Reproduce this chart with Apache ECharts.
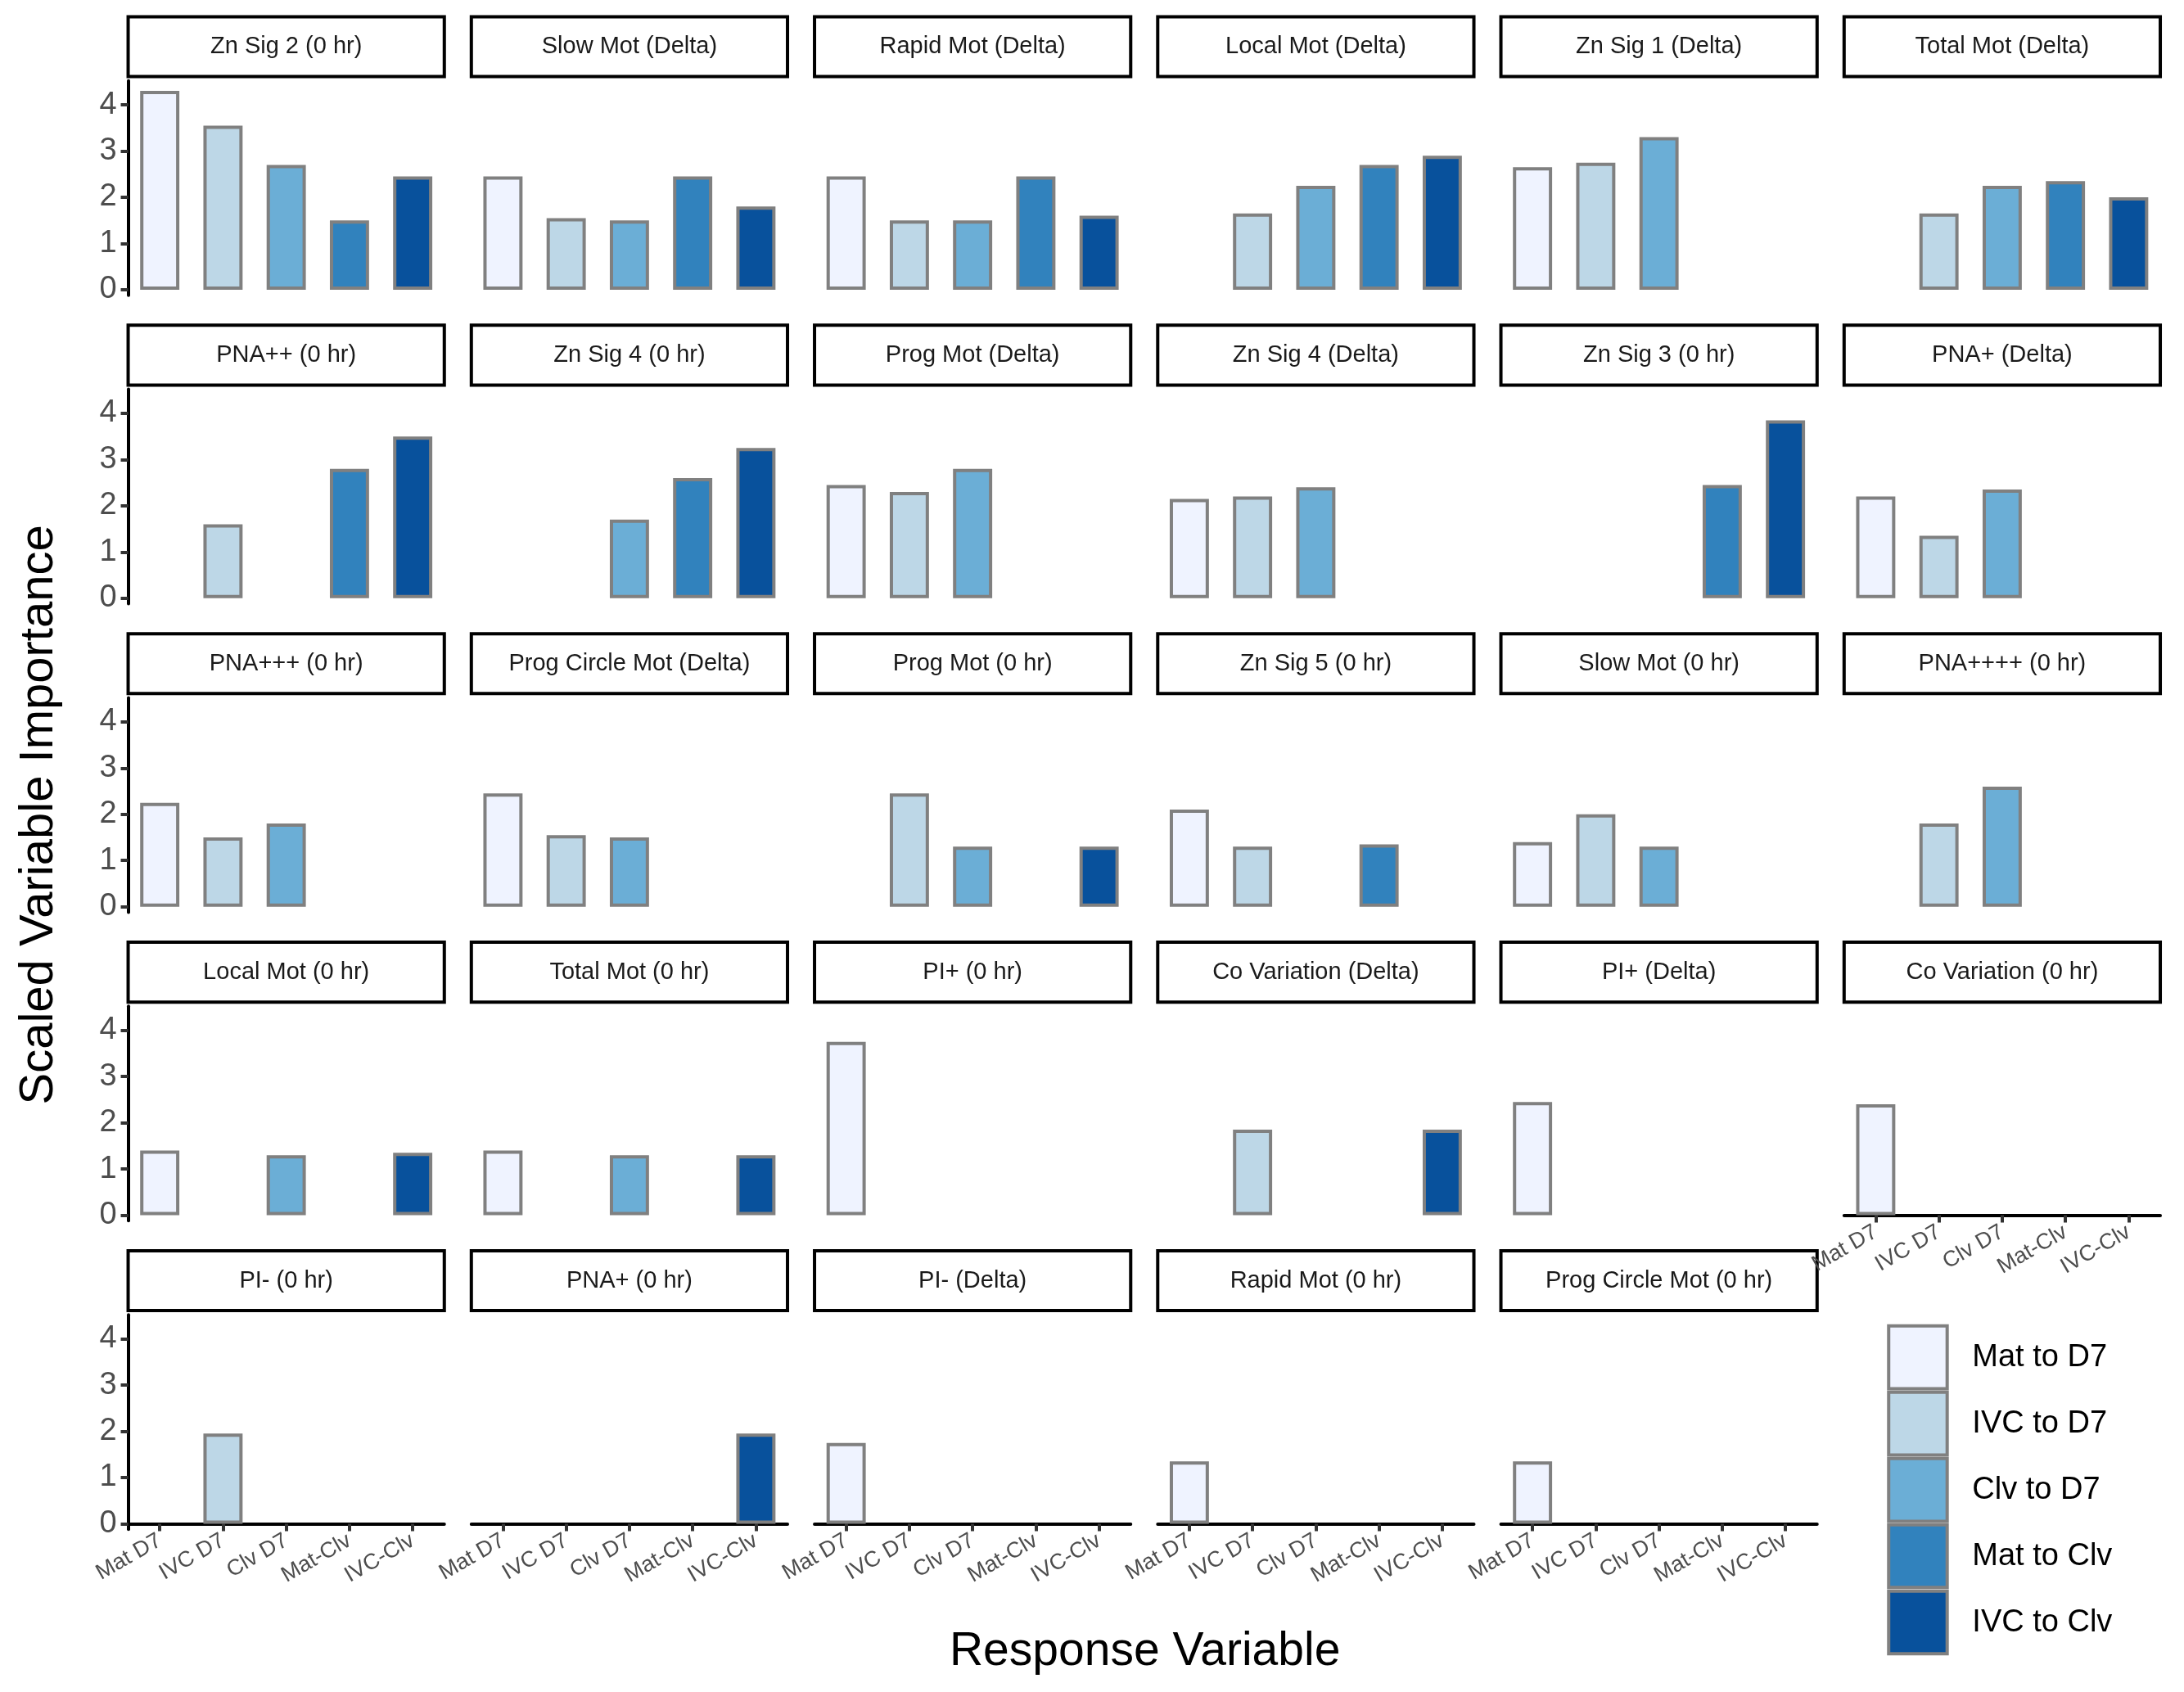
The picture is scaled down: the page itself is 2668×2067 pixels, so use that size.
<!DOCTYPE html>
<html>
<head>
<meta charset="utf-8">
<script src="https://cdn.jsdelivr.net/npm/echarts@6/dist/echarts.min.js"></script>
<style>html,body{margin:0;padding:0;background:#fff}#main{width:2668px;height:2067px}</style>
</head>
<body>
<div id="main"></div>
<script>
// categories and fills
var categories = ['Mat D7', 'IVC D7', 'Clv D7', 'Mat-Clv', 'IVC-Clv'];
var legendNames = ['Mat to D7', 'IVC to D7', 'Clv to D7', 'Mat to Clv', 'IVC to Clv'];
var colors = ['#EFF3FF', '#BDD7E7', '#6BAED6', '#3182BD', '#08519C'];
var yTicks = [0, 1, 2, 3, 4];

// facet titles, row by row
var panelTitles = [
  'Zn Sig 2 (0 hr)', 'Slow Mot (Delta)', 'Rapid Mot (Delta)', 'Local Mot (Delta)', 'Zn Sig 1 (Delta)', 'Total Mot (Delta)',
  'PNA++ (0 hr)', 'Zn Sig 4 (0 hr)', 'Prog Mot (Delta)', 'Zn Sig 4 (Delta)', 'Zn Sig 3 (0 hr)', 'PNA+ (Delta)',
  'PNA+++ (0 hr)', 'Prog Circle Mot (Delta)', 'Prog Mot (0 hr)', 'Zn Sig 5 (0 hr)', 'Slow Mot (0 hr)', 'PNA++++ (0 hr)',
  'Local Mot (0 hr)', 'Total Mot (0 hr)', 'PI+ (0 hr)', 'Co Variation (Delta)', 'PI+ (Delta)', 'Co Variation (0 hr)',
  'PI- (0 hr)', 'PNA+ (0 hr)', 'PI- (Delta)', 'Rapid Mot (0 hr)', 'Prog Circle Mot (0 hr)'
];

// importance values per panel (null = not present)
var panelValues = [
  [4.3, 3.55, 2.7, 1.5, 2.45], [2.45, 1.55, 1.5, 2.45, 1.8], [2.45, 1.5, 1.5, 2.45, 1.6],
  [null, 1.65, 2.25, 2.7, 2.9], [2.65, 2.75, 3.3, null, null], [null, 1.65, 2.25, 2.35, 2.0],
  [null, 1.6, null, 2.8, 3.5], [null, null, 1.7, 2.6, 3.25], [2.45, 2.3, 2.8, null, null],
  [2.15, 2.2, 2.4, null, null], [null, null, null, 2.45, 3.85], [2.2, 1.35, 2.35, null, null],
  [2.25, 1.5, 1.8, null, null], [2.45, 1.55, 1.5, null, null], [null, 2.45, 1.3, null, 1.3],
  [2.1, 1.3, null, 1.35, null], [1.4, 2.0, 1.3, null, null], [null, 1.8, 2.6, null, null],
  [1.4, null, 1.3, null, 1.35], [1.4, null, 1.3, null, 1.3], [3.75, null, null, null, null],
  [null, 1.85, null, null, 1.85], [2.45, null, null, null, null], [2.4, null, null, null, null],
  [null, 1.95, null, null, null], [null, null, null, null, 1.95], [1.75, null, null, null, null],
  [1.35, null, null, null, null], [1.35, null, null, null, null]
];

var chart = echarts.init(document.getElementById('main'));
var S = 1.7015;
var colLeft = 92 * S, colPitch = 246.4 * S, plotW = 227 * S;
var rowTop = 58 * S, rowPitch = 221.5 * S, plotH = 154 * S;
var stripOff = 46 * S, stripH = 43 * S;

var grids = [], xAxes = [], yAxes = [], series = [], graphics = [];
panelTitles.forEach(function (t, i) {
  var r = Math.floor(i / 6), c = i % 6;
  var left = colLeft + c * colPitch, top = rowTop + r * rowPitch;
  var showX = (r === 4) || (r === 3 && c === 5);
  var showY = c === 0;
  grids.push({left: left, top: top, width: plotW, height: plotH});
  xAxes.push({
    type: 'category', gridIndex: i, data: categories,
    axisLine: {show: showX, lineStyle: {color: '#000', width: 4}},
    axisTick: {show: showX, alignWithLabel: true, length: 9, lineStyle: {color: '#333', width: 4}},
    axisLabel: {show: showX, rotate: 30, fontSize: 27, color: '#4d4d4d', margin: 12, fontFamily: 'Liberation Sans'}
  });
  yAxes.push({
    type: 'value', gridIndex: i, min: -0.12, max: 4.52, splitLine: {show: false},
    axisLine: {show: showY, lineStyle: {color: '#000', width: 4}},
    axisTick: {show: showY, customValues: yTicks, length: 9, lineStyle: {color: '#333', width: 4}},
    axisLabel: {show: showY, customValues: yTicks, fontSize: 38, color: '#4d4d4d', margin: 14, fontFamily: 'Liberation Sans'}
  });
  series.push({
    type: 'bar', xAxisIndex: i, yAxisIndex: i, barWidth: '62%', silent: true,
    data: panelValues[i].map(function (v, k) {
      return {value: v, itemStyle: {color: colors[k], borderColor: '#808080', borderWidth: 4}};
    })
  });
  graphics.push({
    type: 'rect', shape: {x: left, y: top - stripOff, width: plotW, height: stripH},
    style: {fill: '#fff', stroke: '#000', lineWidth: 4}
  });
  graphics.push({
    type: 'text', x: left + plotW / 2, y: top - stripOff + stripH / 2,
    style: {text: t, fontSize: 29, fill: '#1a1a1a', align: 'center', verticalAlign: 'middle', fontFamily: 'Liberation Sans'}
  });
});

// legend
legendNames.forEach(function (n, k) {
  var y = 952 * S + k * 47.6 * S;
  graphics.push({type: 'rect', shape: {x: 1356 * S, y: y, width: 42 * S, height: 45 * S},
    style: {fill: colors[k], stroke: '#808080', lineWidth: 4}});
  graphics.push({type: 'text', x: 1416 * S, y: y + 22.5 * S,
    style: {text: n, fontSize: 38, fill: '#000', verticalAlign: 'middle', fontFamily: 'Liberation Sans'}});
});
graphics.push({type: 'text', x: 822 * S, y: 1186 * S,
  style: {text: 'Response Variable', fontSize: 57, fill: '#000', align: 'center', verticalAlign: 'middle', fontFamily: 'Liberation Sans'}});
graphics.push({type: 'text', x: 28 * S, y: 585 * S, rotation: Math.PI / 2,
  style: {text: 'Scaled Variable Importance', fontSize: 58, fill: '#000', align: 'center', verticalAlign: 'middle', fontFamily: 'Liberation Sans'}});

chart.setOption({
  animation: false,
  grid: grids, xAxis: xAxes, yAxis: yAxes, series: series, graphic: graphics
});
</script>
</body>
</html>
